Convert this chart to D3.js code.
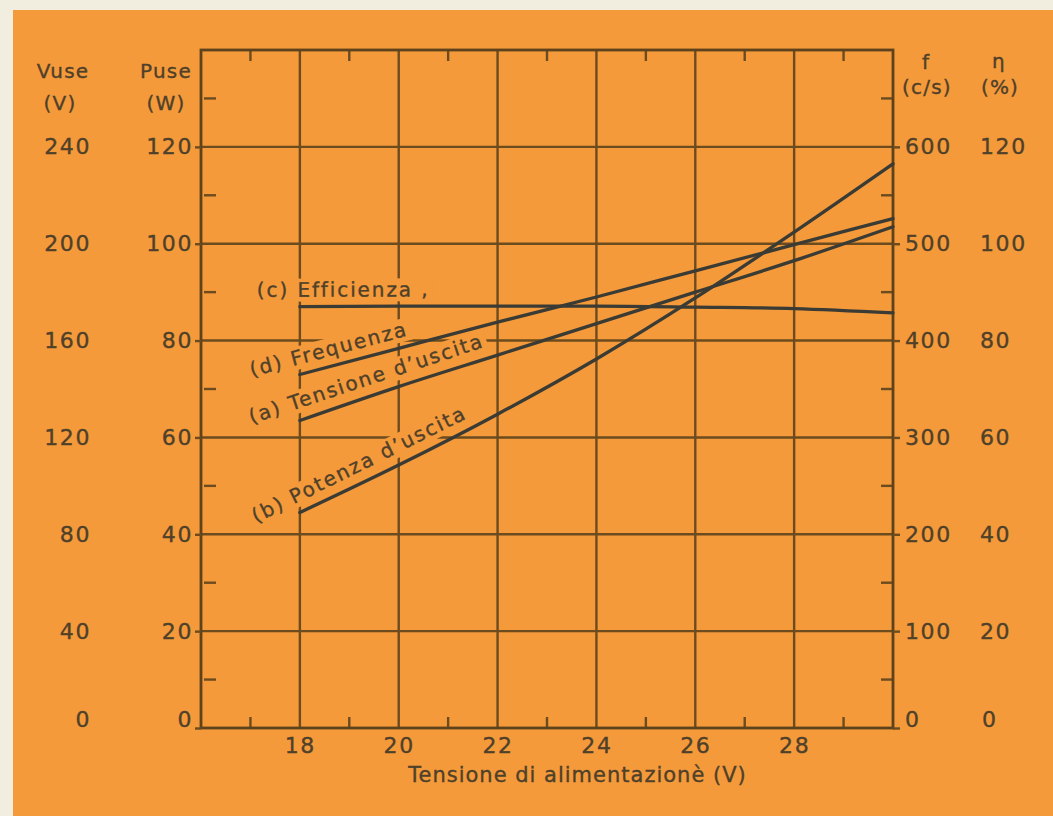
<!DOCTYPE html>
<html>
<head>
<meta charset="utf-8">
<script src="https://cdn.jsdelivr.net/npm/d3@7/dist/d3.min.js"></script>
<style>
  html, body { margin: 0; padding: 0; background: #F2EEDF; }
  svg { display: block; }
  text { font-family: "DejaVu Sans", sans-serif; fill: #4f4029; stroke: #4f4029; stroke-width: 0.35px; }
</style>
</head>
<body>
<script>
// ---------------- DATA ----------------
const supplyVoltage = [18, 20, 22, 24, 26, 28, 30];           // Tensione di alimentazione (V)
const outputVoltage = [127, 141, 154, 167, 180, 193, 207];     // (a) Tensione d'uscita, Vuse (V)
const outputPower   = [44.5, 54.3, 64.8, 76.2, 88.8, 102.4, 116.5]; // (b) Potenza d'uscita, Puse (W)
const efficiency    = [87.0, 87.1, 87.1, 87.1, 86.9, 86.6, 85.7]; // (c) Efficienza, η (%)
const frequency     = [365, 392, 419, 445, 472, 499, 526];     // (d) Frequenza, f (c/s)

const xTickValues   = [18, 20, 22, 24, 26, 28];
const xMinorTicks   = [17, 19, 21, 23, 25, 27, 29];
const vuseTicks     = [0, 40, 80, 120, 160, 200, 240];
const puseTicks     = [0, 20, 40, 60, 80, 100, 120];
const puseMinor     = [10, 30, 50, 70, 90, 110, 130];
const freqTicks     = [0, 100, 200, 300, 400, 500, 600];
const etaTicks      = [0, 20, 40, 60, 80, 100, 120];

const curveLabels = ["(c) Efficienza ,", "(d) Frequenza", "(a) Tensione d\u2019uscita", "(b) Potenza d\u2019uscita"];
const xTitle = "Tensione di alimentazionè (V)";

// ---------------- SETUP ----------------
const W = 1053, H = 816;
const ORANGE = "#F49A3B";
const GRID = "#6c4b1f";
const INK = "#3a3b34";

const svg = d3.select("body").append("svg").attr("width", W).attr("height", H);
svg.append("rect").attr("width", W).attr("height", H).attr("fill", "#F2EEDF");
svg.append("rect").attr("x", 13).attr("y", 10).attr("width", W - 13).attr("height", H - 10).attr("fill", ORANGE);

const L = 201, R = 893, T = 50, B = 728;
const x    = d3.scaleLinear().domain([16, 30]).range([L, R]);
const yP   = d3.scaleLinear().domain([0, 140]).range([B, T]);
const yV   = d3.scaleLinear().domain([0, 280]).range([B, T]);
const yF   = d3.scaleLinear().domain([0, 700]).range([B, T]);
const yEta = d3.scaleLinear().domain([0, 140]).range([B, T]);

// ---------------- GRID ----------------
const grid = svg.append("g").attr("stroke", GRID).attr("stroke-width", 2.4).attr("fill", "none");
grid.selectAll("line.h").data(puseTicks.filter(d => d > 0)).join("line")
  .attr("x1", L).attr("x2", R).attr("y1", d => yP(d)).attr("y2", d => yP(d));
grid.selectAll("line.v").data(xTickValues).join("line")
  .attr("y1", T).attr("y2", B).attr("x1", d => x(d)).attr("x2", d => x(d));
// minor ticks
grid.selectAll("line.mt").data(xMinorTicks).join("line")
  .attr("x1", d => x(d)).attr("x2", d => x(d)).attr("y1", T).attr("y2", T + 11);
grid.selectAll("line.mb").data(xMinorTicks).join("line")
  .attr("x1", d => x(d)).attr("x2", d => x(d)).attr("y1", B - 11).attr("y2", B);
grid.selectAll("line.ml").data(puseMinor).join("line")
  .attr("x1", L + 3).attr("x2", L + 15).attr("y1", d => yP(d)).attr("y2", d => yP(d));
grid.selectAll("line.mr").data(puseMinor).join("line")
  .attr("x1", R - 12).attr("x2", R).attr("y1", d => yP(d)).attr("y2", d => yP(d));

// ---------------- LABEL MASKS + CURVE LABELS ----------------
const maskLayer = svg.append("g");
const series = [
  { vals: efficiency,    y: yEta, label: curveLabels[0], along: -43, perp: -10 },
  { vals: frequency,     y: yF,   label: curveLabels[1], along: -47, perp: -10 },
  { vals: outputVoltage, y: yV,   label: curveLabels[2], along: -47, perp: -12 },
  { vals: outputPower,   y: yP,   label: curveLabels[3], along: -44, perp: -10 }
];

// ---------------- FRAME ----------------
svg.append("rect").attr("x", L).attr("y", T).attr("width", R - L).attr("height", B - T)
  .attr("fill", "none").attr("stroke", "#5e421c").attr("stroke-width", 2.8);

// ---------------- CURVES ----------------
const curveLayer = svg.append("g");
series.forEach(s => {
  const line = d3.line().x(d => x(d[0])).y(d => s.y(d[1])).curve(d3.curveMonotoneX);
  curveLayer.append("path")
    .attr("d", line(supplyVoltage.map((v, i) => [v, s.vals[i]])))
    .attr("fill", "none").attr("stroke", INK).attr("stroke-width", 3.3)
    .attr("stroke-linecap", "round");
});

const textLayer = svg.append("g");
series.forEach(s => {
  const x0 = x(supplyVoltage[0]), y0 = s.y(s.vals[0]);
  const x1 = x(supplyVoltage[2]), y1 = s.y(s.vals[2]);
  const ang = Math.atan2(y1 - y0, x1 - x0) * 180 / Math.PI;
  const tr = `translate(${x0},${y0}) rotate(${ang})`;
  const g = textLayer.append("g").attr("transform", tr);
  const t = g.append("text").attr("x", s.along).attr("y", s.perp)
    .attr("font-size", 20).attr("letter-spacing", 1.9).text(s.label);
  const bb = t.node().getBBox();
  maskLayer.append("g").attr("transform", tr).append("rect")
    .attr("x", bb.x - 3).attr("y", bb.y + 1).attr("width", bb.width + 6).attr("height", bb.height - 1)
    .attr("fill", ORANGE);
});

// ---------------- AXES ----------------
function styleAxis(g, fs) {
  g.select(".domain").remove();
  g.selectAll(".tick line").attr("stroke", GRID).attr("stroke-width", 2.4);
  g.selectAll(".tick text").attr("font-size", fs).attr("letter-spacing", 1.6)
    .style("font-family", "'DejaVu Sans', sans-serif");
}
const fmt = d => String(d);

const gPuse = svg.append("g").attr("transform", `translate(${L},0)`)
  .call(d3.axisLeft(yP).tickValues(puseTicks).tickSize(6).tickPadding(2).tickFormat(fmt));
styleAxis(gPuse, 22);
gPuse.selectAll(".tick").filter(d => d === 0).select("text").attr("y", -9).attr("x", -8);

const gVuse = svg.append("g").attr("transform", `translate(93,0)`)
  .call(d3.axisLeft(yV).tickValues(vuseTicks).tickSize(0).tickPadding(2).tickFormat(fmt));
styleAxis(gVuse, 22);
gVuse.selectAll(".tick").filter(d => d === 0).select("text").attr("y", -9).attr("x", -2);

const gF = svg.append("g").attr("transform", `translate(${R},0)`)
  .call(d3.axisRight(yF).tickValues(freqTicks).tickSize(7).tickPadding(5).tickFormat(fmt));
styleAxis(gF, 22);
gF.selectAll(".tick").filter(d => d === 0).select("text").attr("y", -9).attr("x", 12);

const gEta = svg.append("g").attr("transform", `translate(978,0)`)
  .call(d3.axisRight(yEta).tickValues(etaTicks).tickSize(0).tickPadding(2).tickFormat(fmt));
styleAxis(gEta, 22);
gEta.selectAll(".tick").filter(d => d === 0).select("text").attr("y", -9).attr("x", 4);

const gX = svg.append("g").attr("transform", `translate(0,${B})`)
  .call(d3.axisBottom(x).tickValues(xTickValues).tickSize(0).tickPadding(9).tickFormat(fmt));
styleAxis(gX, 22);

// ---------------- TITLES ----------------
const head = svg.append("g").attr("font-size", 20).attr("letter-spacing", 1.2);
head.append("text").attr("x", 63).attr("y", 78).attr("text-anchor", "middle").text("Vuse");
head.append("text").attr("x", 60).attr("y", 110).attr("text-anchor", "middle").text("(V)");
head.append("text").attr("x", 166).attr("y", 78).attr("text-anchor", "middle").text("Puse");
head.append("text").attr("x", 166).attr("y", 110).attr("text-anchor", "middle").text("(W)");
head.append("text").attr("x", 926).attr("y", 69).attr("text-anchor", "middle").text("f");
head.append("text").attr("x", 927).attr("y", 94).attr("text-anchor", "middle").text("(c/s)");
head.append("text").attr("x", 999).attr("y", 68).attr("text-anchor", "middle").text("η");
head.append("text").attr("x", 1000).attr("y", 94).attr("text-anchor", "middle").text("(%)");

svg.append("text").attr("x", (403 + 752) / 2).attr("y", 782).attr("text-anchor", "middle")
  .attr("font-size", 21).attr("letter-spacing", 1).text(xTitle);
</script>
</body>
</html>
